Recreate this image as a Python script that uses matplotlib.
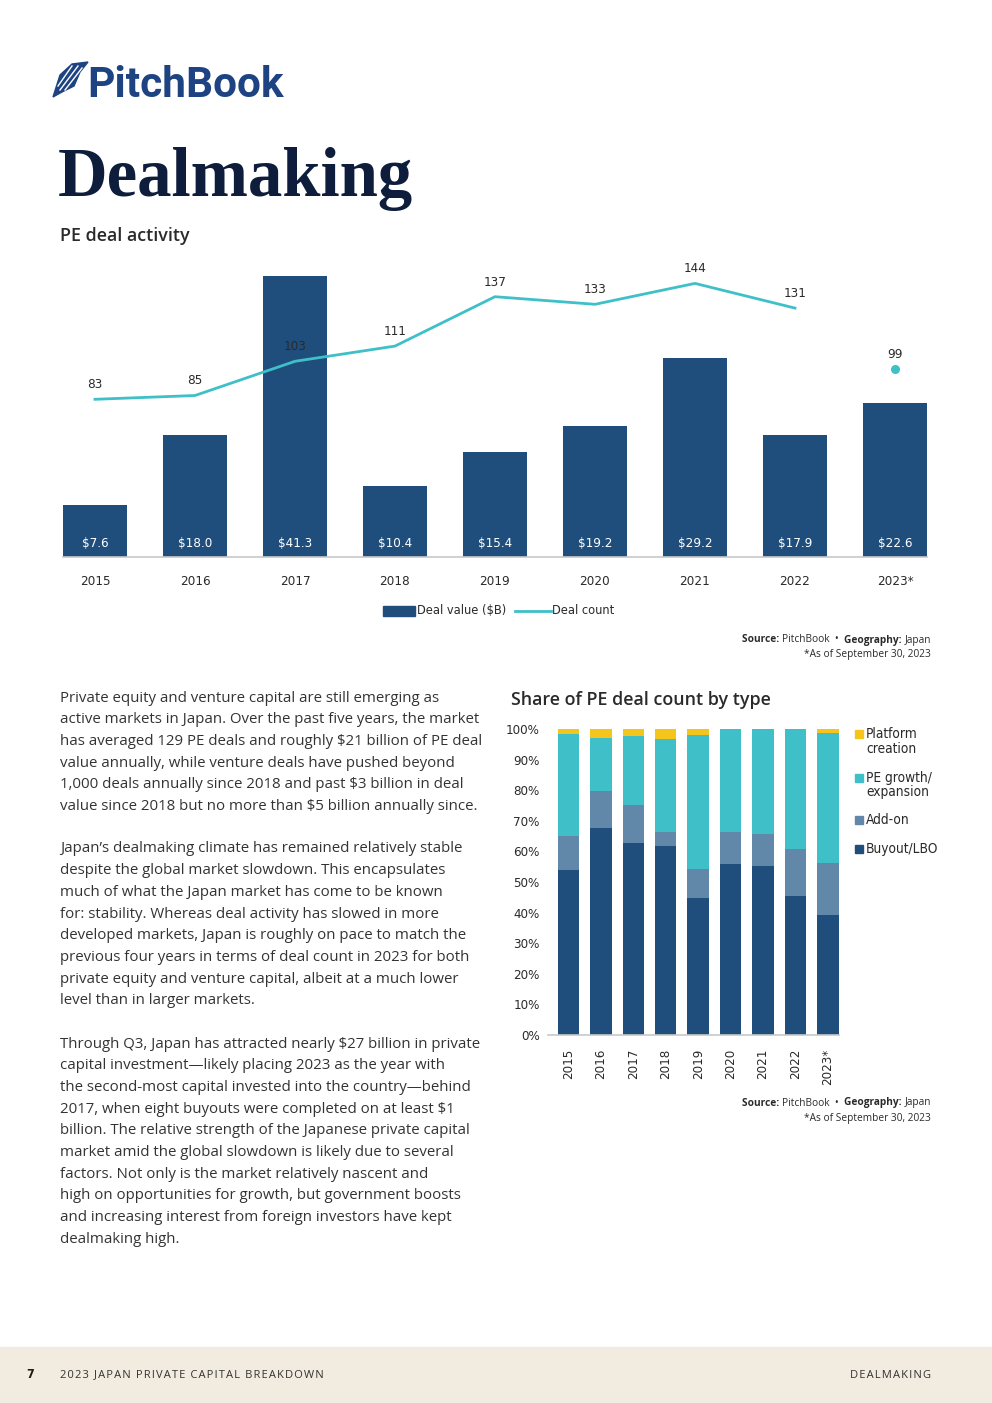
import matplotlib
matplotlib.use("Agg")
import matplotlib.pyplot as plt
from matplotlib.patches import Rectangle, Polygon
from matplotlib.lines import Line2D

plt.rcParams['text.parse_math'] = False

W, H = 992, 1403

# ---- data ----
years = ['2015', '2016', '2017', '2018', '2019', '2020', '2021', '2022', '2023*']
deal_value = [7.6, 18.0, 41.3, 10.4, 15.4, 19.2, 29.2, 17.9, 22.6]
deal_count = [83, 85, 103, 111, 137, 133, 144, 131, 99]

buyout = [54.0, 67.8, 62.7, 61.9, 44.8, 55.9, 55.2, 45.5, 39.3]
addon = [11.0, 11.9, 12.5, 4.4, 9.4, 10.4, 10.5, 15.3, 16.9]
growth = [33.5, 17.3, 22.5, 30.3, 43.8, 33.7, 34.3, 39.2, 42.4]
platform = [1.5, 3.0, 2.3, 3.4, 2.0, 0.0, 0.0, 0.0, 1.4]

NAVY = '#1f4e7d'
ADDON = '#6187a9'
CYAN = '#3fc0c8'
YELLOW = '#f5c51c'
TXT = '#2a2a2a'
BODY = ['Open Sans', 'DejaVu Sans']
COND = dict(family='DejaVu Sans', stretch='condensed')


def fx(x):
    return x / W


def fy(y):
    return 1 - y / H


fig = plt.figure(figsize=(W / 100, H / 100), dpi=100)
fig.patch.set_facecolor('white')
renderer = fig.canvas.get_renderer()

# ---- logo ----
feather = Polygon([(fx(53), fy(97)), (fx(60), fy(75)), (fx(72), fy(64)), (fx(88), fy(62)),
                   (fx(80), fy(72)), (fx(74), fy(86)), (fx(62), fy(92))],
                  closed=True, transform=fig.transFigure, color='#1e4382')
fig.patches.append(feather)
for a, b in [((60, 90), (78, 66)), ((65, 90), (82, 68)), ((58, 86), (72, 66))]:
    fig.lines.append(Line2D([fx(a[0]), fx(b[0])], [fy(a[1]), fy(b[1])], color='white',
                            lw=1.0, transform=fig.transFigure))
fig.text(fx(87), fy(97), 'PitchBook', fontsize=30.5, fontweight='bold', family='Roboto',
         color='#1e4382', va='baseline')

fig.text(fx(58), fy(196), 'Dealmaking', fontsize=49.5, fontweight='bold',
         family='Liberation Serif', color='#0e1d3b', va='baseline')
fig.text(fx(60), fy(236), 'PE deal activity', fontsize=12.9, fontweight='semibold',
         family='Open Sans', color=TXT, va='center')

# ---- chart 1 ----
top1, bot1, left1, right1 = 260, 557, 63, 927
ax1 = fig.add_axes([fx(left1), fy(bot1), (right1 - left1) / W, (bot1 - top1) / H])
x = list(range(len(years)))
ax1.bar(x, deal_value, width=0.64, color=NAVY, zorder=2)
ax1.set_xlim(-0.32, 8.32)
ax1.set_ylim(0, (bot1 - top1) / 6.8)
ax1.set_yticks([])
for s in ['top', 'left', 'right']:
    ax1.spines[s].set_visible(False)
ax1.spines['bottom'].set_color('#c8c8c8')
ax1.spines['bottom'].set_linewidth(1.2)
ax1.set_xticks(x)
ax1.set_xticklabels(years, fontsize=9.6, color=TXT, **COND)
ax1.tick_params(axis='x', length=0, pad=13)
for i, v in enumerate(deal_value):
    ax1.annotate('$%.1f' % v, (i, 0), xytext=(0, 9.5), textcoords='offset points',
                 ha='center', va='center', color='white', fontsize=9.6, **COND)

ax2 = ax1.twinx()
ax2.set_ylim(0, (bot1 - top1) / 1.9)
ax2.set_yticks([])
for s in ax2.spines.values():
    s.set_visible(False)
ax2.plot(x[:-1], deal_count[:-1], color=CYAN, lw=2.0, zorder=3)
ax2.plot(x[-1], deal_count[-1], 'o', color=CYAN, ms=5.5, zorder=3)
for i, c in enumerate(deal_count):
    ax2.annotate(str(c), (i, c), xytext=(0, 10.5), textcoords='offset points',
                 ha='center', va='center', color=TXT, fontsize=9.6, **COND)

# legend chart 1
fig.patches.append(Rectangle((fx(383), fy(616)), 32 / W, 10 / H, color=NAVY,
                             transform=fig.transFigure))
fig.text(fx(417), fy(611), 'Deal value ($B)', fontsize=9.2, color=TXT, va='center', **COND)
fig.lines.append(Line2D([fx(515), fx(551)], [fy(611), fy(611)], color=CYAN, lw=2.0,
                        transform=fig.transFigure))
fig.text(fx(552), fy(611), 'Deal count', fontsize=9.2, color=TXT, va='center', **COND)


def rich_right(xr, y, pieces):
    # pieces: (text, bold) drawn right to left so the line ends at xr
    cur = xr
    for t, bold in reversed(pieces):
        tx = fig.text(cur / W, fy(y), t, ha='right', va='center', fontsize=7.3,
                      family='Open Sans', fontweight='bold' if bold else 'normal', color=TXT)
        cur -= tx.get_window_extent(renderer).width


def source(y):
    rich_right(931, y, [('Source: ', True), ('PitchBook  \u2022  ', False),
                        ('Geography: ', True), ('Japan', False)])
    fig.text(fx(931), fy(y + 15), '*As of September 30, 2023', ha='right', va='center',
             fontsize=7.3, family='Open Sans', color=TXT)


source(640)

# ---- body text ----
para1 = ["Private equity and venture capital are still emerging as",
         "active markets in Japan. Over the past five years, the market",
         "has averaged 129 PE deals and roughly $21 billion of PE deal",
         "value annually, while venture deals have pushed beyond",
         "1,000 deals annually since 2018 and past $3 billion in deal",
         "value since 2018 but no more than $5 billion annually since."]
para2 = ["Japan\u2019s dealmaking climate has remained relatively stable",
         "despite the global market slowdown. This encapsulates",
         "much of what the Japan market has come to be known",
         "for: stability. Whereas deal activity has slowed in more",
         "developed markets, Japan is roughly on pace to match the",
         "previous four years in terms of deal count in 2023 for both",
         "private equity and venture capital, albeit at a much lower",
         "level than in larger markets."]
para3 = ["Through Q3, Japan has attracted nearly $27 billion in private",
         "capital investment\u2014likely placing 2023 as the year with",
         "the second-most capital invested into the country\u2014behind",
         "2017, when eight buyouts were completed on at least $1",
         "billion. The relative strength of the Japanese private capital",
         "market amid the global slowdown is likely due to several",
         "factors. Not only is the market relatively nascent and",
         "high on opportunities for growth, but government boosts",
         "and increasing interest from foreign investors have kept",
         "dealmaking high."]
for start, para in [(698, para1), (849, para2), (1044, para3)]:
    for k, line in enumerate(para):
        fig.text(fx(60), fy(start + k * 21.7), line, family=BODY, fontsize=10.8,
                 color='#333333', va='center')

# ---- chart 2 ----
fig.text(fx(511), fy(700), 'Share of PE deal count by type', fontsize=12.9,
         fontweight='semibold', family='Open Sans', color=TXT, va='center')
top2, bot2, left2, right2 = 729, 1035, 548, 839
ax3 = fig.add_axes([fx(left2), fy(bot2), (right2 - left2) / W, (bot2 - top2) / H])
bw = 0.66
b1 = buyout
b2 = [a + b for a, b in zip(b1, addon)]
b3 = [a + b for a, b in zip(b2, growth)]
ax3.bar(x, buyout, width=bw, color=NAVY)
ax3.bar(x, addon, width=bw, bottom=b1, color=ADDON)
ax3.bar(x, growth, width=bw, bottom=b2, color=CYAN)
ax3.bar(x, platform, width=bw, bottom=b3, color=YELLOW)
ax3.set_xlim(-0.63, 8.34)
ax3.set_ylim(0, 100)
ax3.set_yticks(range(0, 101, 10))
ax3.set_yticklabels(['%d%%' % v for v in range(0, 101, 10)], fontsize=9.5, color=TXT, **COND)
ax3.set_xticks(x)
ax3.set_xticklabels(years, rotation=90, fontsize=9.5, color=TXT, **COND)
ax3.tick_params(axis='both', length=0)
ax3.tick_params(axis='y', pad=6)
ax3.tick_params(axis='x', pad=10)
for s in ['top', 'left', 'right']:
    ax3.spines[s].set_visible(False)
ax3.spines['bottom'].set_color('#c8c8c8')
ax3.spines['bottom'].set_linewidth(1.2)

legend2 = [(734, ['Platform', 'creation'], YELLOW),
           (778, ['PE growth/', 'expansion'], CYAN),
           (820, ['Add-on'], ADDON),
           (849, ['Buyout/LBO'], NAVY)]
for y, lines, col in legend2:
    fig.patches.append(Rectangle((fx(855), fy(y + 4)), 8 / W, 8 / H, color=col,
                                 transform=fig.transFigure))
    for k, t in enumerate(lines):
        fig.text(fx(866), fy(y + k * 14.5), t, fontsize=9.8, color=TXT, va='center', **COND)

source(1103)

# ---- footer ----
fig.patches.append(Rectangle((0, 0), 1, (H - 1347) / H, color='#f1ebe0',
                             transform=fig.transFigure, zorder=0))
fig.text(fx(26), fy(1375), '7', fontsize=9, fontweight='bold', color='#1a1a1a',
         va='center', **COND)
fig.text(fx(60), fy(1375), '\u200a'.join('2023 JAPAN PRIVATE CAPITAL BREAKDOWN'),
         fontsize=8, family=BODY, color='#333333', va='center')
fig.text(fx(931), fy(1375), '\u200a'.join('DEALMAKING'), fontsize=8, family=BODY,
         color='#333333', va='center', ha='right')

fig.savefig('out.png', dpi=100)
